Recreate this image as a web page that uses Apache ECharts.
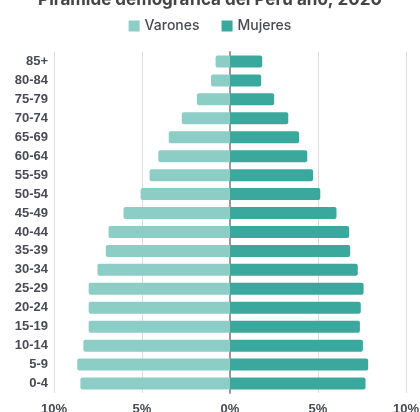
<!DOCTYPE html>
<html><head><meta charset="utf-8">
<script src="https://cdn.jsdelivr.net/npm/echarts@6/dist/echarts.min.js"></script>
<style>html,body{margin:0;padding:0;background:#fff}#c{width:420px;height:412px}</style>
</head><body><div id="c"></div>
<script>
const categories = ['0-4','5-9','10-14','15-19','20-24','25-29','30-34','35-39','40-44','45-49','50-54','55-59','60-64','65-69','70-74','75-79','80-84','85+'];
const varones = [8.5,8.68,8.33,8.03,8.03,8.03,7.53,7.06,6.9,6.05,5.08,4.57,4.07,3.48,2.74,1.88,1.08,0.82];
const mujeres = [7.7,7.85,7.55,7.38,7.43,7.59,7.26,6.83,6.77,6.05,5.13,4.72,4.39,3.92,3.31,2.51,1.77,1.83];
const xTicks = [-10,-5,0,5,10];

const chart = echarts.init(document.getElementById('c'));
chart.setOption({
  animation:false,
  title:{text:'Pirámide demográfica del Perú año, 2020',left:'center',top:-14,
    textStyle:{fontFamily:'Inter',fontSize:17,fontWeight:'bold',color:'#444'}},
  legend:{top:14,left:'center',itemWidth:11,itemHeight:11,itemGap:22,icon:'rect',
    textStyle:{fontFamily:'Inter',fontSize:14,fontWeight:500,color:'#4a4a55'},
    data:['Varones','Mujeres']},
  grid:{left:54,right:14,top:52,bottom:19,containLabel:false,outerBoundsMode:'none'},
  xAxis:{type:'value',min:xTicks[0],max:xTicks[xTicks.length-1],interval:5,
    axisLine:{show:false},axisTick:{show:false},
    splitLine:{show:true,lineStyle:{color:'#dcdcdc',width:1}},
    axisLabel:{margin:10,fontFamily:'Liberation Sans',fontWeight:'bold',fontSize:13,color:'#4a4a55',
      formatter:v=>Math.abs(v)+'%'}},
  yAxis:{type:'category',data:categories,
    axisLine:{show:true,onZero:true,lineStyle:{color:'#999',width:2}},
    axisTick:{show:false},
    axisLabel:{margin:6,fontFamily:'Liberation Sans',fontWeight:'bold',fontSize:13,color:'#4a4a55'}},
  series:[
    {name:'Varones',type:'bar',stack:'p',barWidth:12,
      data:varones.map(v=>-v),
      itemStyle:{color:'#8ccdc6',borderRadius:[2,0,0,2]}},
    {name:'Mujeres',type:'bar',stack:'p',barWidth:12,
      data:mujeres,
      itemStyle:{color:'#3aa89c',borderRadius:[0,2,2,0]}}
  ]
});
</script></body></html>
